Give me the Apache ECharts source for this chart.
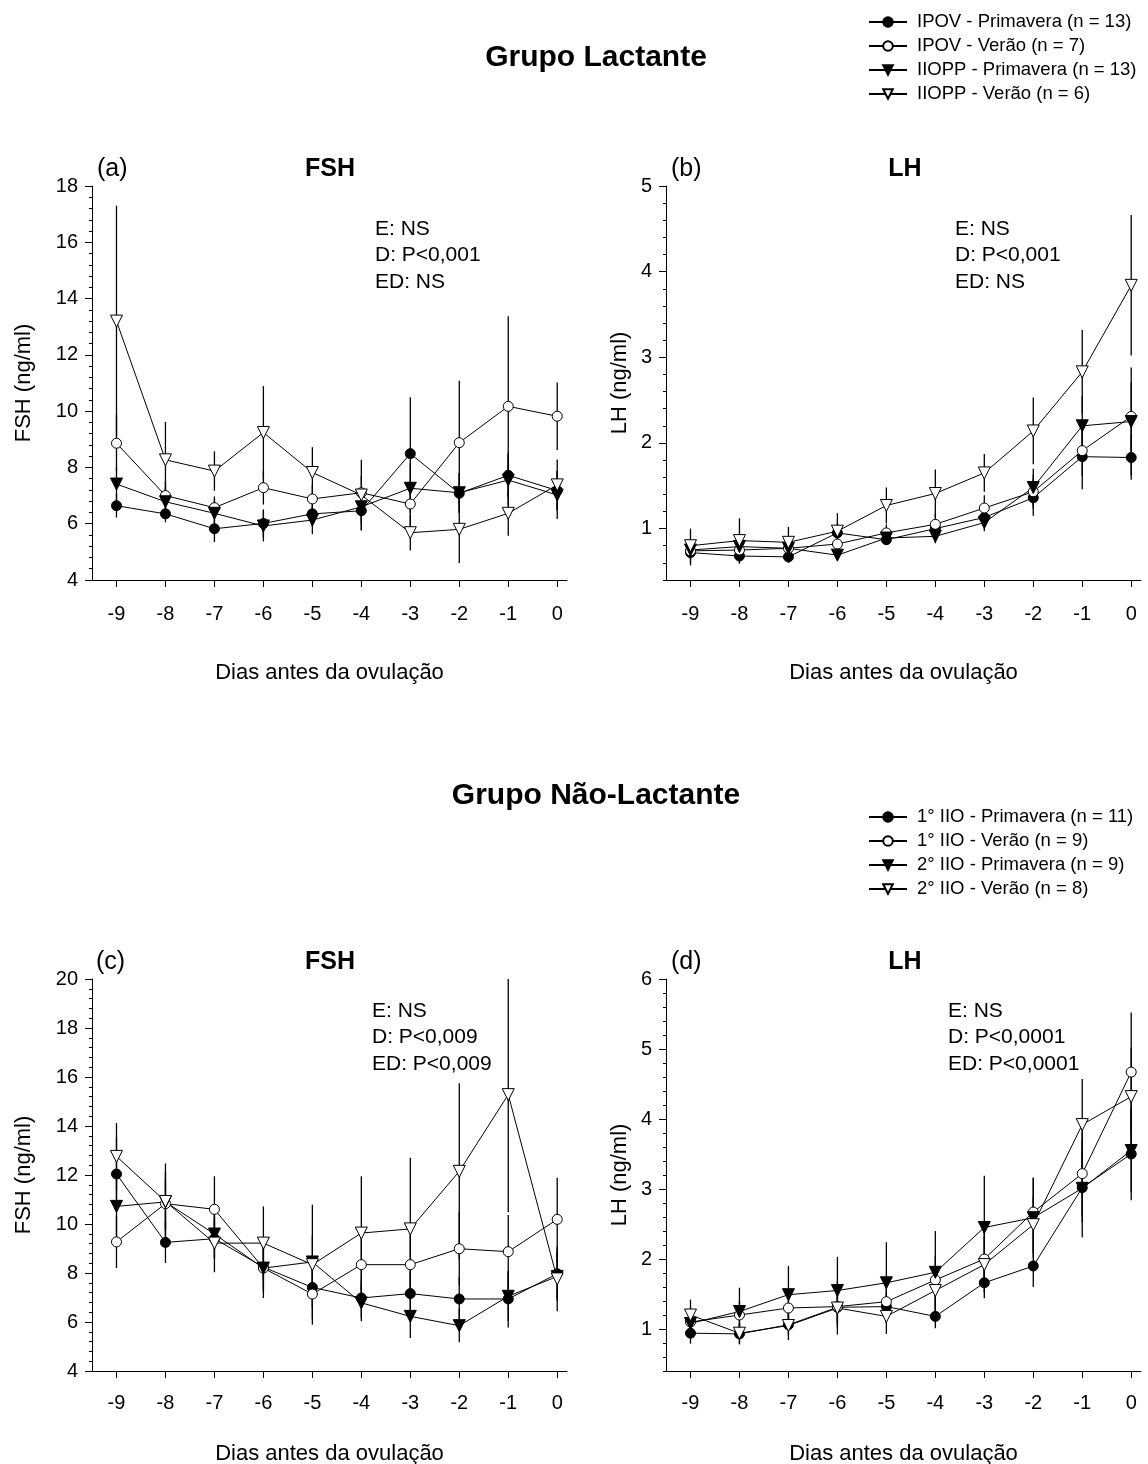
<!DOCTYPE html>
<html>
<head>
<meta charset="utf-8">
<script src="https://cdn.jsdelivr.net/npm/echarts@6/dist/echarts.min.js"></script>
<style>
  html, body { margin: 0; padding: 0; background: #fff; }
  #chart { width: 1148px; height: 1464px; }
</style>
</head>
<body>
<div id="chart"></div>
<script>
// dias antes da ovulacao
var days = [-9, -8, -7, -6, -5, -4, -3, -2, -1, 0];

// (a) FSH - grupo lactante (medias e erro padrao)
var fshLacIpovPri = [6.64, 6.35, 5.82, 6.01, 6.35, 6.46, 8.49, 7.08, 7.72, 7.18];
var fshLacIpovVer = [8.86, 7.0, 6.57, 7.28, 6.88, 7.1, 6.7, 8.88, 10.17, 9.82];
var fshLacIioppPri = [7.41, 6.78, 6.37, 5.92, 6.13, 6.6, 7.26, 7.1, 7.55, 7.02];
var fshLacIioppVer = [13.2, 8.27, 7.87, 9.24, 7.82, 7.02, 5.68, 5.8, 6.37, 7.38];
var fshLacIpovPriSem = [0.42, 0.3, 0.47, 0.5, 0.45, 0.7, 2.0, 0.7, 0.8, 0.7];
var fshLacIpovVerSem = [1.0, 0.5, 0.4, 0.6, 0.5, 0.6, 0.8, 2.2, 3.2, 1.2];
var fshLacIioppPriSem = [0.6, 0.5, 0.5, 0.55, 0.5, 0.6, 0.9, 0.7, 0.9, 0.85];
var fshLacIioppVerSem = [4.1, 1.35, 0.7, 1.65, 0.9, 1.25, 0.63, 1.2, 0.8, 0.9];

// (b) LH - grupo lactante
var lhLacIpovPri = [0.72, 0.68, 0.67, 0.95, 0.87, 1.0, 1.13, 1.36, 1.84, 1.83];
var lhLacIpovVer = [0.74, 0.75, 0.77, 0.82, 0.95, 1.05, 1.24, 1.43, 1.91, 2.31];
var lhLacIioppPri = [0.75, 0.79, 0.77, 0.69, 0.89, 0.91, 1.07, 1.48, 2.2, 2.25];
var lhLacIioppVer = [0.8, 0.86, 0.84, 0.97, 1.27, 1.41, 1.65, 2.14, 2.83, 3.84];
var lhLacIpovPriSem = [0.15, 0.09, 0.07, 0.12, 0.06, 0.1, 0.1, 0.21, 0.38, 0.26];
var lhLacIpovVerSem = [0.1, 0.1, 0.1, 0.1, 0.1, 0.12, 0.15, 0.2, 0.3, 0.4];
var lhLacIioppPriSem = [0.08, 0.08, 0.08, 0.06, 0.08, 0.08, 0.1, 0.22, 0.35, 0.63];
var lhLacIioppVerSem = [0.2, 0.26, 0.18, 0.21, 0.21, 0.28, 0.22, 0.39, 0.49, 0.82];

// (c) FSH - grupo nao-lactante
var fshNl1Pri = [12.04, 9.25, 9.4, 8.24, 7.41, 6.98, 7.16, 6.94, 6.94, 7.97];
var fshNl1Ver = [9.27, 10.83, 10.6, 8.2, 7.14, 8.34, 8.34, 8.99, 8.87, 10.19];
var fshNl2Pri = [10.72, 10.9, 9.59, 8.2, 8.45, 6.78, 6.23, 5.85, 7.05, 7.86];
var fshNl2Ver = [12.76, 10.92, 9.22, 9.22, 8.34, 9.63, 9.8, 12.15, 15.28, 7.76];
var fshNl1PriSem = [1.5, 0.84, 0.8, 0.9, 0.8, 0.8, 0.9, 0.9, 1.16, 1.0];
var fshNl1VerSem = [1.07, 1.0, 1.35, 1.0, 1.25, 1.2, 1.2, 1.5, 1.5, 1.7];
var fshNl2PriSem = [1.2, 1.57, 1.0, 1.22, 2.34, 0.75, 0.88, 0.68, 1.0, 1.0];
var fshNl2VerSem = [1.36, 1.2, 1.19, 1.5, 1.2, 2.32, 2.9, 3.6, 4.8, 1.32];

// (d) LH - grupo nao-lactante
var lhNl1Pri = [0.94, 0.93, 1.06, 1.31, 1.32, 1.18, 1.66, 1.9, 3.02, 3.5];
var lhNl1Ver = [1.1, 1.2, 1.3, 1.32, 1.39, 1.7, 2.0, 2.67, 3.22, 4.67];
var lhNl2Pri = [1.08, 1.25, 1.49, 1.55, 1.66, 1.81, 2.45, 2.59, 3.01, 3.55];
var lhNl2Ver = [1.2, 0.94, 1.05, 1.3, 1.18, 1.55, 1.92, 2.49, 3.92, 4.32];
var lhNl1PriSem = [0.15, 0.15, 0.15, 0.2, 0.2, 0.17, 0.22, 0.3, 0.5, 0.66];
var lhNl1VerSem = [0.15, 0.2, 0.25, 0.3, 0.3, 0.35, 0.4, 0.49, 0.6, 0.85];
var lhNl2PriSem = [0.15, 0.34, 0.41, 0.48, 0.58, 0.59, 0.74, 0.57, 0.7, 0.6];
var lhNl2VerSem = [0.22, 0.15, 0.21, 0.38, 0.25, 0.3, 0.4, 0.4, 0.65, 0.7];

var namesLac = ['IPOV - Primavera (n = 13)', 'IPOV - Verão (n = 7)', 'IIOPP - Primavera (n = 13)', 'IIOPP - Verão (n = 6)'];
var namesNl = ['1° IIO - Primavera (n = 11)', '1° IIO - Verão (n = 9)', '2° IIO - Primavera (n = 9)', '2° IIO - Verão (n = 8)'];

var FONT = 'Liberation Sans';
var kinds = ['filledCircle', 'openCircle', 'filledTri', 'openTri'];

function lineSeries(name, vals, kind, xi, yi) {
  var tri = kind == 'filledTri' || kind == 'openTri';
  var open = kind == 'openCircle' || kind == 'openTri';
  return {
    type: 'line', name: name, xAxisIndex: xi, yAxisIndex: yi,
    data: days.map(function (d, i) { return [d, vals[i]]; }),
    symbol: tri ? 'triangle' : 'circle',
    symbolRotate: tri ? 180 : 0,
    symbolSize: tri ? 12 : 10,
    lineStyle: { color: '#000', width: 1 },
    itemStyle: { color: open ? '#fff' : '#000', borderColor: '#000', borderWidth: 1 },
    z: 3
  };
}

function errSeries(list, xi, yi, yMax) {
  var data = [];
  list.forEach(function (s) {
    days.forEach(function (d, i) {
      data.push([d, s[0][i] - s[1][i], Math.min(s[0][i] + s[1][i], yMax)]);
    });
  });
  return {
    type: 'custom', xAxisIndex: xi, yAxisIndex: yi, z: 2, silent: true,
    encode: { x: 0, y: [1, 2] },
    data: data,
    renderItem: function (params, api) {
      var x = api.value(0);
      var p1 = api.coord([x, api.value(1)]);
      var p2 = api.coord([x, api.value(2)]);
      return { type: 'line', shape: { x1: p1[0], y1: p1[1], x2: p2[0], y2: p2[1] },
               style: { stroke: '#000', lineWidth: 1.3 } };
    }
  };
}

function xAxis(gi, gap, margin) {
  return {
    type: 'value', gridIndex: gi, min: -9.5, max: 0.2,
    name: 'Dias antes da ovulação', nameLocation: 'middle', nameGap: gap,
    nameTextStyle: { fontSize: 22, color: '#000', fontFamily: FONT },
    axisLine: { onZero: false, lineStyle: { color: '#000', width: 1 } },
    axisTick: { customValues: days, length: 7, lineStyle: { color: '#000' } },
    axisLabel: { customValues: days, fontSize: 20, color: '#000', fontFamily: FONT, margin: margin },
    splitLine: { show: false }
  };
}

function yAxisFsh(gi, max, name) {
  return {
    type: 'value', gridIndex: gi, position: 'left', min: 4, max: max, interval: 2,
    name: name, nameLocation: 'middle', nameGap: 57,
    nameTextStyle: { fontSize: 22, color: '#000', fontFamily: FONT },
    axisLine: { show: true, onZero: false, lineStyle: { color: '#000', width: 1 } },
    axisTick: { show: true, length: 7, lineStyle: { color: '#000' } },
    minorTick: { show: true, splitNumber: 5, length: 3, lineStyle: { color: '#000' } },
    axisLabel: { fontSize: 20, color: '#000', fontFamily: FONT, margin: 14 },
    splitLine: { show: false }
  };
}

function yAxisLh(gi, max, name) {
  var major = [];
  for (var v = 1; v <= max; v++) major.push(v);
  var minor = [];
  for (var k = 2; k <= max * 5; k++) minor.push(k / 5);
  return [{
    type: 'value', gridIndex: gi, position: 'left', min: 0.4, max: max,
    name: name, nameLocation: 'middle', nameGap: 35,
    nameTextStyle: { fontSize: 22, color: '#000', fontFamily: FONT },
    axisLine: { show: true, onZero: false, lineStyle: { color: '#000', width: 1 } },
    axisTick: { show: true, customValues: major, length: 7, lineStyle: { color: '#000' } },
    axisLabel: { customValues: major, fontSize: 20, color: '#000', fontFamily: FONT, margin: 14 },
    splitLine: { show: false }
  }, {
    type: 'value', gridIndex: gi, position: 'left', offset: 0, min: 0.4, max: max,
    axisLine: { show: false, onZero: false },
    axisTick: { show: true, customValues: minor, length: 3, lineStyle: { color: '#000' } },
    axisLabel: { show: false },
    splitLine: { show: false }
  }];
}

function txt(s, x, y, size, bold, align) {
  return {
    type: 'text', x: x, y: y, silent: true,
    style: { text: s, fill: '#000', fontSize: size, fontWeight: bold ? 'bold' : 'normal',
             fontFamily: FONT, textAlign: align || 'left', textVerticalAlign: 'middle' }
  };
}

function notes(lines, x, y0) {
  return lines.map(function (s, i) { return txt(s, x, y0 + i * 26.5, 21, false); });
}

var series = [];
var lacA = [fshLacIpovPri, fshLacIpovVer, fshLacIioppPri, fshLacIioppVer];
var lacASem = [fshLacIpovPriSem, fshLacIpovVerSem, fshLacIioppPriSem, fshLacIioppVerSem];
var lacB = [lhLacIpovPri, lhLacIpovVer, lhLacIioppPri, lhLacIioppVer];
var lacBSem = [lhLacIpovPriSem, lhLacIpovVerSem, lhLacIioppPriSem, lhLacIioppVerSem];
var nlC = [fshNl1Pri, fshNl1Ver, fshNl2Pri, fshNl2Ver];
var nlCSem = [fshNl1PriSem, fshNl1VerSem, fshNl2PriSem, fshNl2VerSem];
var nlD = [lhNl1Pri, lhNl1Ver, lhNl2Pri, lhNl2Ver];
var nlDSem = [lhNl1PriSem, lhNl1VerSem, lhNl2PriSem, lhNl2VerSem];

// painel: [medias, sem, nomes, xAxisIndex, yAxisIndex, ymax]
var panels = [
  [lacA, lacASem, namesLac, 0, 0, 18],
  [lacB, lacBSem, namesLac, 1, 1, 5],
  [nlC, nlCSem, namesNl, 2, 3, 20],
  [nlD, nlDSem, namesNl, 3, 4, 6]
];
panels.forEach(function (p) {
  series.push(errSeries(p[0].map(function (v, i) { return [v, p[1][i]]; }), p[3], p[4], p[5]));
  p[0].forEach(function (v, i) {
    series.push(lineSeries(p[2][i], v, kinds[i], p[3], p[4]));
  });
});

var legendBase = {
  orient: 'vertical', itemWidth: 38, itemHeight: 12, itemGap: 4,
  textStyle: { fontSize: 18.5, color: '#000', fontFamily: FONT, lineHeight: 20, padding: [0, 0, 0, 5] },
  selectedMode: false
};

var chart = echarts.init(document.getElementById('chart'));
chart.setOption({
  animation: false,
  backgroundColor: '#fff',
  grid: [
    { left: 92, top: 186, width: 475, height: 394, outerBoundsMode: 'none' },
    { left: 666, top: 186, width: 475, height: 394, outerBoundsMode: 'none' },
    { left: 92, top: 979, width: 475, height: 392, outerBoundsMode: 'none' },
    { left: 666, top: 979, width: 475, height: 392, outerBoundsMode: 'none' }
  ],
  xAxis: [xAxis(0, 82, 24), xAxis(1, 82, 24), xAxis(2, 72, 22), xAxis(3, 72, 22)],
  yAxis: [yAxisFsh(0, 18, 'FSH (ng/ml)')]
    .concat(yAxisLh(1, 5, 'LH (ng/ml)'))
    .concat([yAxisFsh(2, 20, 'FSH (ng/ml)')])
    .concat(yAxisLh(3, 6, 'LH (ng/ml)')),
  legend: [
    Object.assign({ left: 863, top: 7, data: namesLac }, legendBase),
    Object.assign({ left: 863, top: 802, data: namesNl }, legendBase)
  ],
  graphic: [
    txt('Grupo Lactante', 596, 58, 30, true, 'center'),
    txt('Grupo Não-Lactante', 596, 796, 30, true, 'center'),
    txt('(a)', 97, 169, 25, false),
    txt('FSH', 330, 169, 25, true, 'center'),
    txt('(b)', 671, 169, 25, false),
    txt('LH', 905, 169, 25, true, 'center'),
    txt('(c)', 96, 962, 25, false),
    txt('FSH', 330, 962, 25, true, 'center'),
    txt('(d)', 671, 962, 25, false),
    txt('LH', 905, 962, 25, true, 'center')
  ].concat(notes(['E: NS', 'D: P<0,001', 'ED: NS'], 375, 229))
   .concat(notes(['E: NS', 'D: P<0,001', 'ED: NS'], 955, 229))
   .concat(notes(['E: NS', 'D: P<0,009', 'ED: P<0,009'], 372, 1011))
   .concat(notes(['E: NS', 'D: P<0,0001', 'ED: P<0,0001'], 948, 1011)),
  series: series
});
</script>
</body>
</html>
